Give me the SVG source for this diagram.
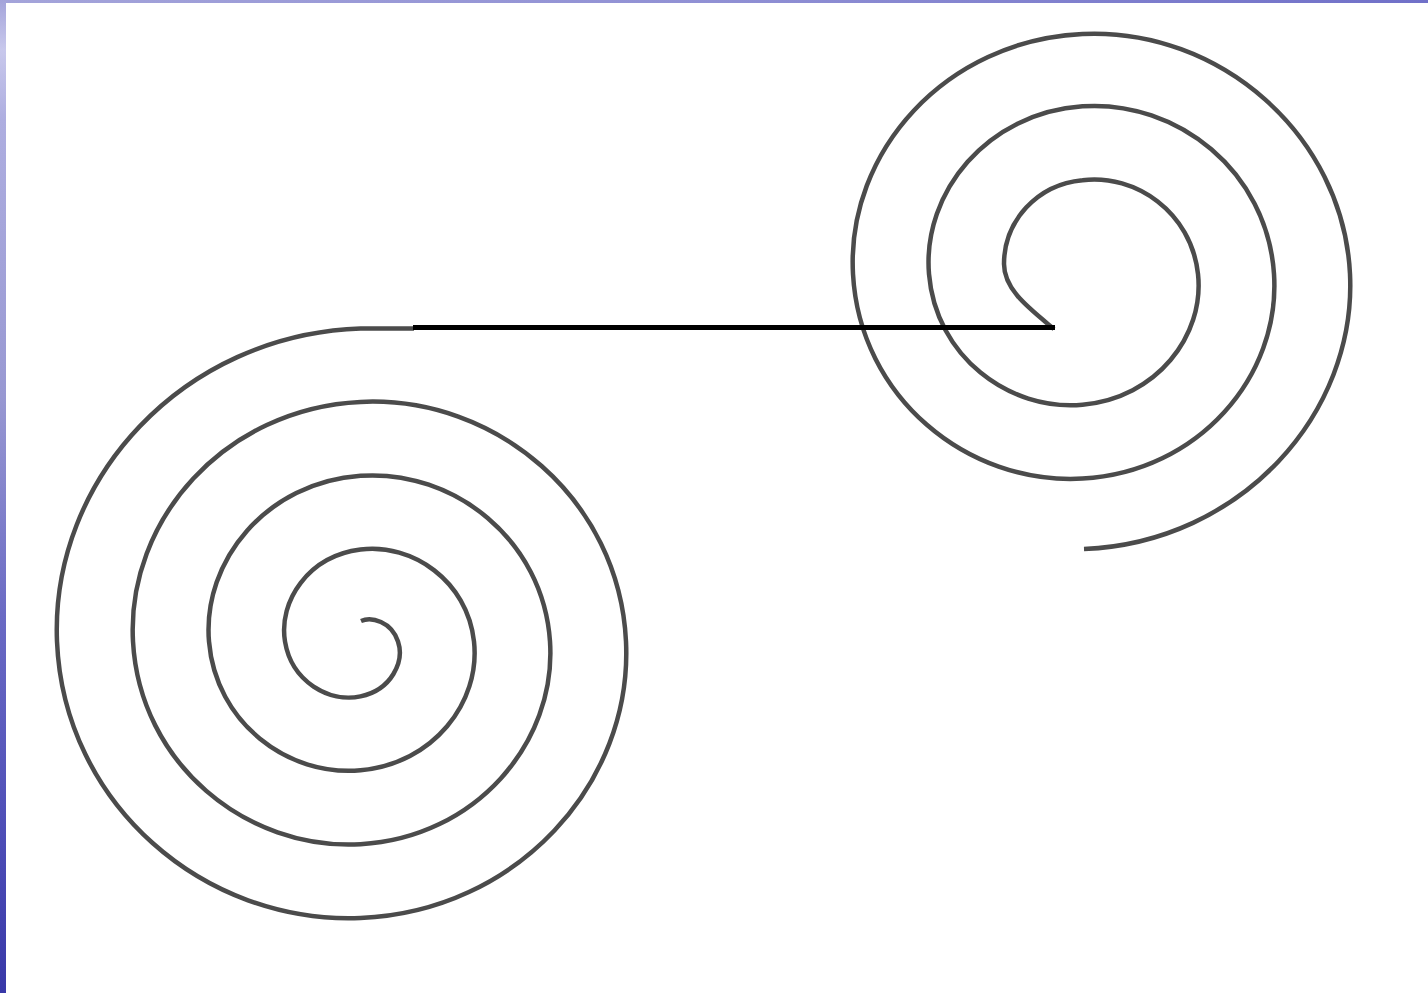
<svg xmlns="http://www.w3.org/2000/svg" width="1428" height="993" viewBox="0 0 1428 993">
  <defs>
    <linearGradient id="gLeft" x1="0" y1="0" x2="0" y2="1">
      <stop offset="0" stop-color="#a4a4da"/>
      <stop offset="0.05" stop-color="#c8c8ec"/>
      <stop offset="0.12" stop-color="#aeaee0"/>
      <stop offset="0.4" stop-color="#9898d2"/>
      <stop offset="0.62" stop-color="#6a6ac4"/>
      <stop offset="0.85" stop-color="#4c4cb6"/>
      <stop offset="1" stop-color="#3838a8"/>
    </linearGradient>
    <linearGradient id="gTop" x1="0" y1="0" x2="1" y2="0">
      <stop offset="0" stop-color="#a4a4da"/>
      <stop offset="0.5" stop-color="#9090d4"/>
      <stop offset="1" stop-color="#7070c8"/>
    </linearGradient>
    <style>
      .spiral { fill: none; stroke: #4b4b4b; stroke-width: 4.5; stroke-linecap: butt; stroke-linejoin: round; }
      .line { fill: none; stroke: #000000; stroke-width: 5; }
    </style>
  </defs>
  <rect x="0" y="0" width="1428" height="993" fill="#ffffff"/>
  <rect x="0" y="0" width="1428" height="3" fill="url(#gTop)"/>
  <rect x="0" y="0" width="6" height="993" fill="url(#gLeft)"/>

  <g id="spiral-left">
    <path class="spiral" d="M 361 621
      C 371.5 616.5 391.3 621.5 398 641.5
      C 404.7 661.5 391.6 689.9 360.5 696.4
      C 329.4 702.9 291.7 681.9 285 641.5
      C 278.3 601.1 308.5 556.1 360.5 549.6
      C 412.5 543.1 467.3 580.8 474 641.5
      C 480.7 702.2 433.4 763.8 360.5 770.3
      C 287.6 776.8 215.7 722.5 209 641.5
      C 202.3 560.5 266.7 482.3 360.5 475.8
      C 454.3 469.3 543.3 540.2 550 641.5
      C 556.7 742.8 475.2 837.7 360.5 844.2
      C 245.8 850.7 139.7 763.1 133 641.5
      C 126.3 519.9 224.9 408.4 360.5 401.9
      C 496.1 395.4 619.3 499.6 626 641.5
      C 632.7 783.4 517 911.5 360.5 918
      C 204 924.5 63.7 803.8 57 641.5
      C 50.3 479.2 183.1 334.5 360.5 328.5
      L 414 328.5"/>
  </g>

  <g id="spiral-right">
    <path class="spiral" d="M 1054 329
      C 1030 309 1004 290 1004 264
      C 1004 221 1037 184.5 1082.5 180.2
      C 1135.6 173.7 1191.3 212.3 1198 274
      C 1204.7 335.7 1156.5 398.2 1082.5 404.7
      C 1008.5 411.2 935.7 356.1 929 274
      C 922.3 191.9 987.6 112.8 1082.5 106.3
      C 1177.4 99.8 1267.3 171.6 1274 274
      C 1280.7 376.4 1198.3 472.1 1082.5 478.6
      C 966.7 485.1 859.7 396.7 853 274
      C 846.3 151.3 945.8 40.5 1082.5 34
      C 1219.2 27.5 1343.3 135 1350 274
      C 1356.7 413 1241.6 542.5 1084 549"/>
  </g>

  <g id="connectors">
    <line class="line" x1="413" y1="327.5" x2="1055" y2="327.5"/>
  </g>
</svg>
